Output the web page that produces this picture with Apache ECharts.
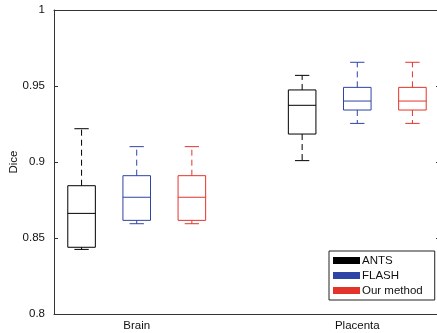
<!DOCTYPE html>
<html>
<head>
<meta charset="utf-8">
<script src="https://cdn.jsdelivr.net/npm/echarts@6/dist/echarts.min.js"></script>
<style>
html,body{margin:0;padding:0;background:#fff;}
#chart{width:437px;height:333px;}
</style>
</head>
<body>
<div id="chart"></div>
<script>
// ---- data ----
var groups = ['Brain', 'Placenta'];
var methods = ['ANTS', 'FLASH', 'Our method'];
var methodColors = ['#000000', '#2e44a6', '#e3342c'];
// [lower whisker, q1, median, q3, upper whisker] per group
var antsStats = [[0.8425, 0.8439, 0.8662, 0.8844, 0.9219], [0.9009, 0.9184, 0.9373, 0.9474, 0.9570]];
var flashStats = [[0.8594, 0.8616, 0.8768, 0.8910, 0.9101], [0.9254, 0.9342, 0.9401, 0.9491, 0.9656]];
var oursStats = [[0.8594, 0.8616, 0.8768, 0.8910, 0.9101], [0.9254, 0.9342, 0.9401, 0.9491, 0.9656]];
var yTicks = [0.8, 0.85, 0.9, 0.95, 1];
var yLabel = 'Dice';

var allStats = [antsStats, flashStats, oursStats];
var slotsPerGroup = methods.length + 1;
var nSlots = groups.length * slotsPerGroup - 1;
var slotLabels = [];
for (var i = 0; i < nSlots; i++) {
  var g = Math.floor(i / slotsPerGroup), s = i % slotsPerGroup;
  slotLabels.push(s === 1 ? groups[g] : '');
}

function renderBox(params, api) {
  var x = api.value(0);
  var lo = api.value(1), q1 = api.value(2), med = api.value(3), q3 = api.value(4), hi = api.value(5);
  var color = api.visual('color');
  var band = api.size([1, 0])[0];
  var hw = band * 0.25, cw = band * 0.13;
  var c = api.coord([x, med]);
  var cx = c[0];
  var yLo = api.coord([x, lo])[1], yQ1 = api.coord([x, q1])[1], yMed = c[1],
      yQ3 = api.coord([x, q3])[1], yHi = api.coord([x, hi])[1];
  var solid = {stroke: color, lineWidth: 1, fill: null};
  var dashed = {stroke: color, lineWidth: 1, fill: null, lineDash: [6, 4]};
  return {
    type: 'group',
    children: [
      {type: 'line', shape: {x1: cx, y1: yQ3, x2: cx, y2: yHi}, style: dashed},
      {type: 'line', shape: {x1: cx, y1: yQ1, x2: cx, y2: yLo}, style: dashed},
      {type: 'line', shape: {x1: cx - cw, y1: yHi, x2: cx + cw, y2: yHi}, style: solid},
      {type: 'line', shape: {x1: cx - cw, y1: yLo, x2: cx + cw, y2: yLo}, style: solid},
      {type: 'rect', shape: {x: cx - hw, y: yQ3, width: 2 * hw, height: yQ1 - yQ3}, style: {stroke: color, lineWidth: 1, fill: 'rgba(255,255,255,0)'}},
      {type: 'line', shape: {x1: cx - hw, y1: yMed, x2: cx + hw, y2: yMed}, style: solid}
    ]
  };
}

var series = methods.map(function (m, mi) {
  var data = allStats[mi].map(function (st, g) {
    return [g * slotsPerGroup + mi].concat(st);
  });
  return {
    name: m,
    type: 'custom',
    renderItem: renderBox,
    itemStyle: {color: methodColors[mi]},
    encode: {x: 0, y: [1, 2, 3, 4, 5]},
    data: data,
    z: 5
  };
});

var axisColor = '#333333';
var font = '"Liberation Sans", Arial, Helvetica, sans-serif';
var chart = echarts.init(document.getElementById('chart'), null, {renderer: 'canvas'});
chart.setOption({
  animation: false,
  backgroundColor: '#ffffff',
  textStyle: {fontFamily: font},
  grid: {left: 54, top: 10, width: 386, height: 304, containLabel: false, outerBoundsMode: 'none'},
  xAxis: [
    {
      type: 'category', data: slotLabels, position: 'bottom', boundaryGap: true,
      axisLine: {lineStyle: {color: axisColor, width: 1}},
      axisTick: {inside: true, alignWithLabel: true, interval: 0, length: 4, lineStyle: {color: axisColor}},
      axisLabel: {interval: 0, color: '#111', fontSize: 11.5, margin: 6, fontFamily: font},
      splitLine: {show: false}
    },
    {
      type: 'category', data: slotLabels, position: 'top', boundaryGap: true,
      axisLine: {lineStyle: {color: axisColor, width: 1}},
      axisTick: {inside: true, alignWithLabel: true, interval: 0, length: 4, lineStyle: {color: axisColor}},
      axisLabel: {show: false},
      splitLine: {show: false}
    }
  ],
  yAxis: [
    {
      type: 'value', min: yTicks[0], max: yTicks[yTicks.length - 1], interval: 0.05,
      position: 'left', name: yLabel, nameLocation: 'middle', nameGap: 34, nameMoveOverlap: false,
      nameTextStyle: {color: '#111', fontSize: 11.5, fontFamily: font},
      axisLine: {show: true, lineStyle: {color: axisColor, width: 1}},
      axisTick: {show: true, inside: true, length: 4, lineStyle: {color: axisColor}},
      axisLabel: {color: '#111', fontSize: 11.5, margin: 9, fontFamily: font,
        formatter: function (v) { return String(Math.round(v * 100) / 100); }},
      splitLine: {show: false}
    },
    {
      type: 'value', min: yTicks[0], max: yTicks[yTicks.length - 1], interval: 0.05,
      position: 'right',
      axisLine: {show: true, lineStyle: {color: axisColor, width: 1}},
      axisTick: {show: true, inside: true, length: 4, lineStyle: {color: axisColor}},
      axisLabel: {show: false},
      splitLine: {show: false}
    }
  ],
  legend: {
    orient: 'vertical', left: 329, top: 251,
    backgroundColor: '#fff', borderColor: '#222', borderWidth: 1,
    padding: [2, 12, 2, 4], itemGap: 0, itemWidth: 27, itemHeight: 7,
    textStyle: {color: '#111', fontSize: 11.5, lineHeight: 15, fontFamily: font, padding: [0, 0, 0, -3]},
    data: methods.map(function (m, mi) {
      return {name: m, icon: 'rect', itemStyle: {color: methodColors[mi]}};
    })
  },
  series: series
});
</script>
</body>
</html>
